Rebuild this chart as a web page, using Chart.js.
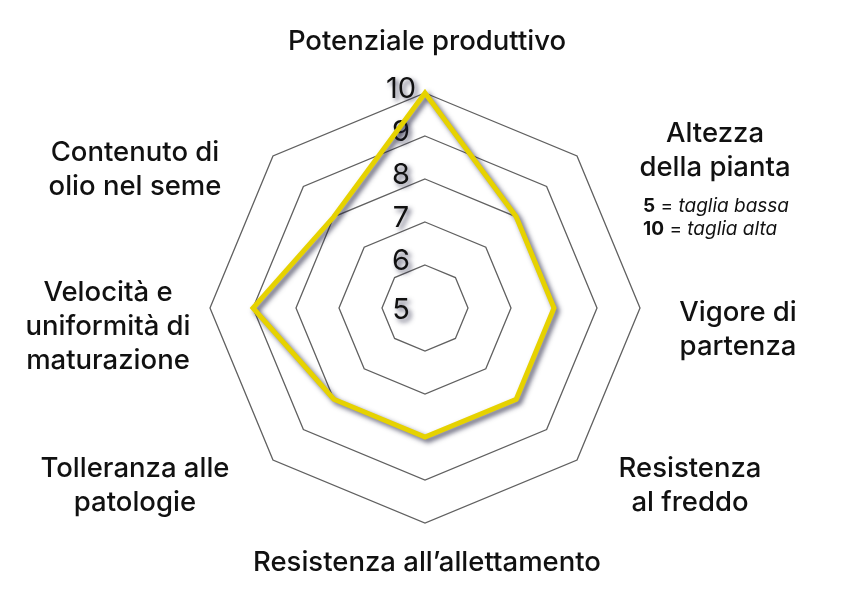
<!DOCTYPE html>
<html lang="it">
<head>
<meta charset="utf-8">
<title>Profilo varietale</title>
<script src="https://cdn.jsdelivr.net/npm/chart.js@4.4.1/dist/chart.umd.min.js"></script>
<style>
  html, body { margin: 0; padding: 0; background: #fff; }
  #wrap { width: 850px; height: 600px; }
</style>
</head>
<body>
<div id="wrap"><canvas id="radarChart" width="850" height="600"></canvas></div>
<script>
// axis names, clockwise from the top
const categories = [
  ['Potenziale produttivo'],
  ['Altezza', 'della pianta'],
  ['Vigore di', 'partenza'],
  ['Resistenza', 'al freddo'],
  ['Resistenza all’allettamento'],
  ['Tolleranza alle', 'patologie'],
  ['Velocità e', 'uniformità di', 'maturazione'],
  ['Contenuto di', 'olio nel seme']
];
const scores = [10, 8, 8, 8, 8, 8, 9, 8];
const scaleMin = 5;
const scaleMax = 10;
const heightNote = [['5', 'taglia bassa'], ['10', 'taglia alta']];

// where each name sits, relative to the outer vertex of its axis
const labelShift = [[2, -51], [138, -5], [98, 22], [113, 26], [2, 40], [-138, 26], [-102, 19], [-138, 14]];
const FONT = 'Inter, "Noto Sans", sans-serif';

const lineShadow = {
  id: 'lineShadow',
  beforeDatasetsDraw(chart) {
    const ctx = chart.ctx;
    ctx.save();
    ctx.shadowColor = 'rgba(30, 30, 60, 0.7)';
    ctx.shadowBlur = 5;
    ctx.shadowOffsetX = 3;
    ctx.shadowOffsetY = 3;
  },
  afterDatasetsDraw(chart) {
    chart.ctx.restore();
  }
};

const axisLabels = {
  id: 'axisLabels',
  beforeDatasetsDraw(chart) {
    const r = chart.scales.r;
    const ctx = chart.ctx;
    ctx.save();
    ctx.fillStyle = '#111';
    ctx.textAlign = 'center';
    ctx.textBaseline = 'middle';
    ctx.font = '400 29px ' + FONT;
    r.ticks.forEach(t => {
      const d = r.getDistanceFromCenterForValue(t.value);
      const lift = t.value === scaleMin ? -2 : 4;
      ctx.fillText(t.label, r.xCenter - 24, r.yCenter - d - lift);
    });
    ctx.restore();
  },
  afterDraw(chart) {
    const r = chart.scales.r;
    const ctx = chart.ctx;
    ctx.save();
    ctx.fillStyle = '#111';
    ctx.textAlign = 'center';
    ctx.textBaseline = 'middle';
    ctx.font = '500 27.5px ' + FONT;
    const lh = 34;
    categories.forEach((lines, i) => {
      const p = r.getPointPosition(i, r.drawingArea);
      const cx = p.x + labelShift[i][0];
      const cy = p.y + labelShift[i][1] - (lines.length - 1) * lh / 2;
      lines.forEach((s, k) => ctx.fillText(s, cx, cy + k * lh));
    });

    // scale note under "Altezza della pianta"
    const p1 = r.getPointPosition(1, r.drawingArea);
    ctx.textAlign = 'left';
    heightNote.forEach((row, k) => {
      let x = p1.x + 66;
      const y = p1.y + 50 + k * 23;
      ctx.font = '700 19px ' + FONT;
      ctx.fillText(row[0], x, y);
      x += ctx.measureText(row[0]).width;
      ctx.font = '400 19px ' + FONT;
      ctx.fillText(' = ', x, y);
      x += ctx.measureText(' = ').width;
      ctx.font = 'italic 400 19px ' + FONT;
      ctx.fillText(row[1], x, y);
    });
    ctx.restore();
  }
};

const ctx = document.getElementById('radarChart').getContext('2d');
const radarChart = new Chart(ctx, {
  type: 'radar',
  data: {
    labels: categories.map(c => c.join(' ')),
    datasets: [{
      label: 'Profilo',
      data: scores,
      borderColor: '#e6d200',
      borderWidth: 5,
      borderJoinStyle: 'miter',
      fill: false,
      pointRadius: 0,
      pointHoverRadius: 0,
      tension: 0
    }]
  },
  options: {
    responsive: false,
    animation: false,
    layout: { padding: { top: 93, bottom: 77, left: 0, right: 0 } },
    plugins: {
      legend: { display: false },
      tooltip: { enabled: false }
    },
    scales: {
      r: {
        min: scaleMin,
        max: scaleMax,
        ticks: { stepSize: 1, display: false },
        grid: { color: '#606060', lineWidth: 1.3 },
        angleLines: { display: false },
        pointLabels: { display: false }
      }
    }
  },
  plugins: [lineShadow, axisLabels]
});
</script>
</body>
</html>
